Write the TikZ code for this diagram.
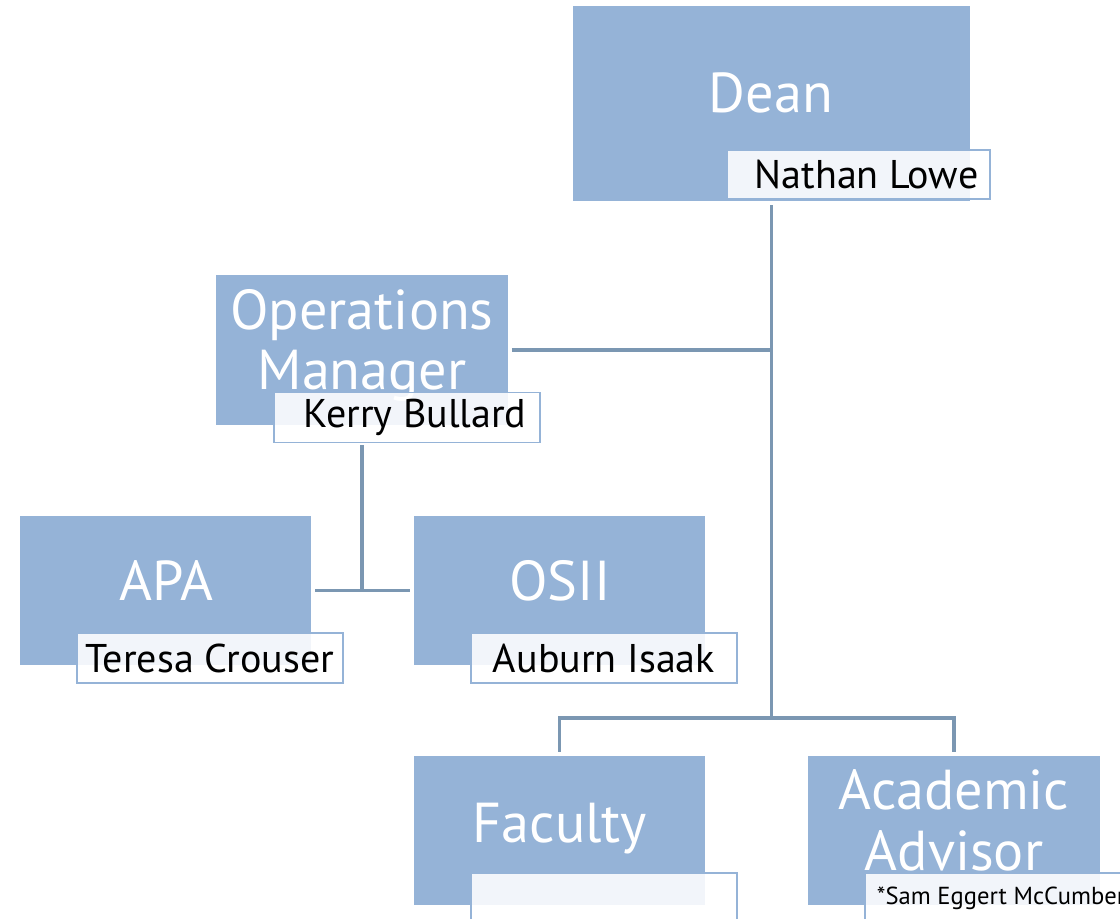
\documentclass[tikz,border=0pt]{standalone}
\usepackage{fontspec}
\setmainfont{PT Sans}
\definecolor{unitblue}{HTML}{95B3D7}
\definecolor{linkblue}{HTML}{7B97B2}
\tikzset{
  unit/.style={fill=unitblue, inner sep=0pt, minimum width=7.275cm, minimum height=3.725cm},
  title/.style={text=white, font=\fontsize{40}{43}\selectfont, align=center, inner sep=0pt, anchor=base},
  namebox/.style={draw=unitblue, line width=1.4pt, fill=white, fill opacity=0.88, text opacity=1,
    inner sep=0pt, minimum width=6.65cm, minimum height=1.25cm, font=\fontsize{28.5}{32}\selectfont},
  link/.style={draw=linkblue, line width=2.2pt}
}
\begin{document}
\begin{tikzpicture}[x=0.025cm,y=-0.025cm]
\useasboundingbox (0,0) rectangle (1120,919);

\node[unit, minimum width=9.925cm, minimum height=4.875cm] (dean) at (771.5,103.5) {};
\node[unit] (ops) at (362,350) {};
\node[unit] (apa) at (165.5,590.5) {};
\node[unit] (osii) at (559.5,590.5) {};
\node[unit] (fac) at (559.5,830.5) {};
\node[unit] (adv) at (954,830.5) {};

\node[title] (dean-t) at (771,113) {Dean};
\node[title] (ops-t) at (362,390) {Operations\\Manager};
\node[title] (apa-t) at (166,600) {APA};
\node[title] (osii-t) at (560,600) {OSII};
\node[title] (fac-t) at (560,842) {Faculty};
\node[title] (adv-t) at (954,870) {Academic\\Advisor};

\node[namebox, minimum width=6.575cm, minimum height=1.225cm] (dean-n) at (858.5,174.5) {\hspace{0.4cm}Nathan Lowe};
\node[namebox] (ops-n) at (407,417.5) {\hspace{0.4cm}Kerry Bullard};
\node[namebox] (apa-n) at (210,658) {Teresa Crouser};
\node[namebox] (osii-n) at (604,658) {Auburn Isaak};
\node[namebox] (fac-n) at (604,898) {};
\node[namebox] (adv-n) at (998,898) {\makebox[6.05cm][l]{\fontsize{17.5}{20}\selectfont *Sam Eggert McCumber}};

\coordinate (split) at (771.5,718);
\draw[link, shorten <=0.1cm] (dean.south) -- (split);
\draw[link, shorten <=0.1cm] (ops.east) -- (ops.east -| split);
\draw[link, shorten <=0.1cm, shorten >=0.1cm] (fac.north) -- (fac.north |- split) -- (adv.north |- split) -- (adv.north);
\draw[link, shorten <=0.05cm] (ops.center |- ops-n.south) -- (ops.center |- apa.east);
\draw[link, shorten <=0.1cm, shorten >=0.1cm] (apa.east) -- (osii.west);
\end{tikzpicture}
\end{document}
